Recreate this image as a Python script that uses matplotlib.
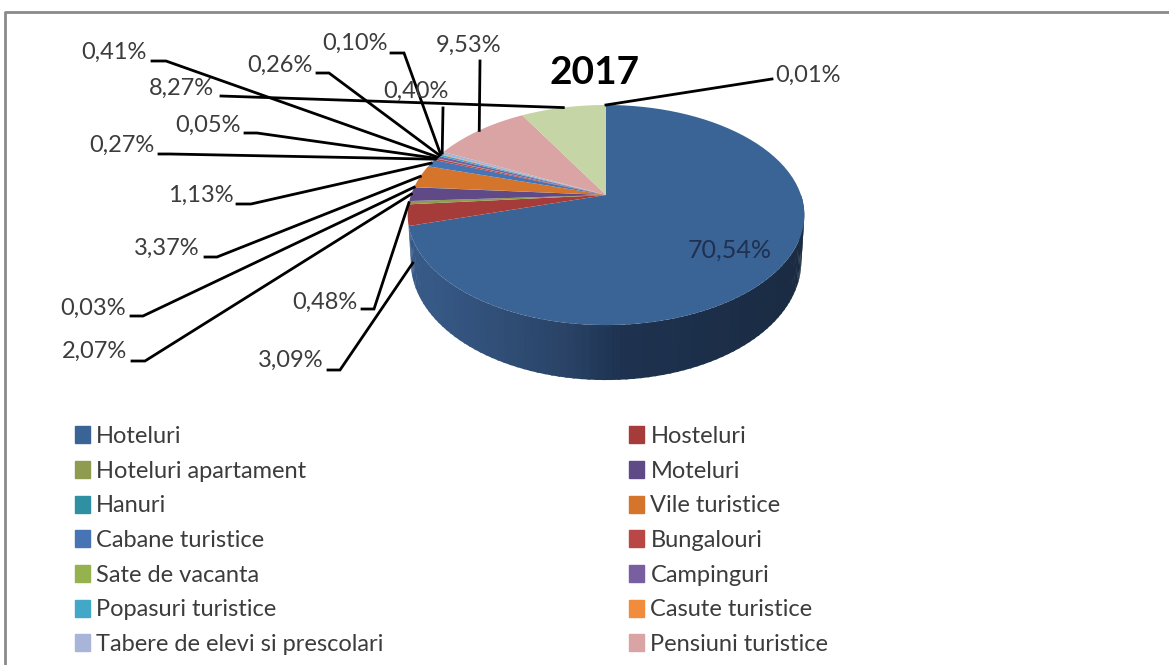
#!/usr/bin/env python3
# -*- coding: utf-8 -*-
import numpy as np
import matplotlib
matplotlib.use('Agg')
import matplotlib.pyplot as plt
from matplotlib.patches import Patch

plt.rcParams['font.family'] = ['Lato', 'DejaVu Sans']

# valorile din grafic, in ordinea feliilor (sens orar de la ora 12)
labels_left = ['Hoteluri', 'Hoteluri apartament', 'Hanuri', 'Cabane turistice',
               'Sate de vacanta', 'Popasuri turistice', 'Tabere de elevi si prescolari']
labels_right = ['Hosteluri', 'Moteluri', 'Vile turistice', 'Bungalouri',
                'Campinguri', 'Casute turistice', 'Pensiuni turistice']
values = [70.54, 3.09, 0.48, 2.07, 0.03, 3.37, 1.13, 0.27, 0.05, 0.41, 0.26, 0.10, 0.40, 9.53, 8.27, 0.01]
value_text = ['70,54%', '3,09%', '0,48%', '2,07%', '0,03%', '3,37%', '1,13%', '0,27%', '0,05%',
              '0,41%', '0,26%', '0,10%', '0,40%', '9,53%', '8,27%', '0,01%']
colors = ['#3a6496', '#a63c3a', '#8f9c50', '#5f4a87', '#2f8fa3', '#d4752b', '#4674b5', '#b84745',
          '#96b24f', '#7860a0', '#43a8c8', '#f08c3c', '#a8b5d8', '#d9a4a3', '#c5d5a5', '#b0c5e0']
legend_colors_left = [colors[0], colors[2], colors[4], colors[6], colors[8], colors[10], colors[12]]
legend_colors_right = [colors[1], colors[3], colors[5], colors[7], colors[9], colors[11], colors[13]]

# geometrie (pixeli)
CX, CY = 606, 195
A, B, K = 195, 106.4, 0.182
DEPTH = 55

# stanga textului, y text, apoi cotul liniei: x1, x2, y
label_pos = {
    '3,09%': (258, 360, 328, 340, 370),
    '0,48%': (292, 302, 362, 374, 309),
    '2,07%': (62, 351, 132, 145, 361),
    '0,03%': (60, 308, 131, 143, 316),
    '3,37%': (134, 248, 205, 217, 257),
    '1,13%': (168, 195, 237, 251, 204),
    '0,27%': (89, 145, 159, 170, 154),
    '0,05%': (175, 125, 245, 257, 133),
    '0,41%': (81, 52, 152, 166, 61),
    '0,26%': (247, 65, 317, 329, 73),
    '0,10%': (322, 43, 391, 404, 53),
    '0,40%': (383, 91, 443, 443, 108),
    '9,53%': (436, 45, 480, 480, 61),
    '8,27%': (149, 88, 221, 221, 96),
    '0,01%': (775, 75, 772, 772, 79),
}


def project(theta):
    # cerc in perspectiva -> pixeli, theta in sens orar de la ora 12
    u, v = np.sin(theta), np.cos(theta)
    w = 1 + K * v
    return CX + A * u / w, CY - B * v / w


def wall_bottom(theta):
    # marginea de jos a peretelui, putin mai ingusta spre laterale
    x, y = project(theta)
    return CX + (x - CX) * 0.985, y + DEPTH * (0.8 + 0.2 * abs(np.cos(theta)))


def wall_color(x):
    # degrade: deschis la stanga, aproape bleumarin la dreapta
    stops = [430, 560, 620, 800]
    r = np.interp(x, stops, [0x37, 0x2a, 0x1e, 0x1a])
    g = np.interp(x, stops, [0x59, 0x44, 0x32, 0x2b])
    b = np.interp(x, stops, [0x86, 0x68, 0x50, 0x42])
    return (r / 255, g / 255, b / 255)


fig = plt.figure(figsize=(11.69, 6.65), dpi=100)
ax = fig.add_axes([0, 0, 1, 1])
ax.set_xlim(0, 1169)
ax.set_ylim(665, 0)
ax.axis('off')

# chenar (doar sus si stanga, restul e taiat in original)
ax.plot([5, 5, 1169], [665, 12, 12], color='#8a8a8a', lw=2)

edges = np.cumsum([0] + values) / sum(values) * 2 * np.pi

# peretele lateral, cu gradient
wall = np.linspace(np.pi / 2, edges[1], 90)
for i in range(len(wall) - 1):
    x0, y0 = project(wall[i])
    x1, y1 = project(wall[i + 1] + 0.01)
    x2, y2 = wall_bottom(wall[i + 1] + 0.01)
    x3, y3 = wall_bottom(wall[i])
    ax.fill([x0, x1, x2, x3], [y0, y1, y2, y3], color=wall_color((x0 + x1) / 2), lw=0)

# fata de sus
for i in range(len(values)):
    th = np.linspace(edges[i], edges[i + 1], 80)
    x, y = project(th)
    ax.fill(np.r_[CX, x], np.r_[CY, y], color=colors[i], lw=0)

# etichete si linii
for i, txt in enumerate(value_text):
    if txt == '70,54%':
        ax.text(688, 250, txt, fontsize=18, color='#1f3050', va='center', ha='left')
        continue
    tx, ty, x1, x2, y2 = label_pos[txt]
    ex, ey = project((edges[i] + edges[i + 1]) / 2)
    if txt == '3,09%':
        ex, ey = ex + 5, ey + 48
    ax.text(tx, ty, txt, fontsize=17, color='#3c3c3c', va='center', ha='left')
    ax.plot([x1, x2, ex], [y2, y2, ey], color='black', lw=2, solid_joinstyle='miter')

ax.text(595, 72, '2017', fontsize=28, fontweight='bold', color='black', va='center', ha='center')

handles = [Patch(color=c, label=l) for c, l in zip(legend_colors_left + legend_colors_right,
                                                    labels_left + labels_right)]
ax.legend(handles=handles, ncol=2, frameon=False, loc='upper left', bbox_to_anchor=(75, 426),
          bbox_transform=ax.transData, borderaxespad=0, borderpad=0, fontsize=17,
          labelcolor='#3c3c3c', handlelength=0.62, handleheight=0.72, handletextpad=0.28,
          labelspacing=0.58, columnspacing=10.4)

fig.savefig('out.png', dpi=100)
